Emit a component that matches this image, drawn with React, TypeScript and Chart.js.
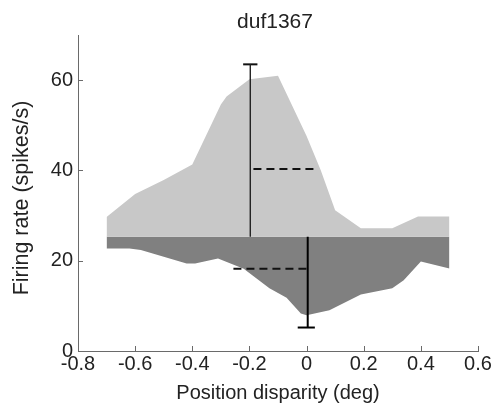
import React, { useEffect, useRef } from "react";
import { Chart, registerables } from "chart.js";

Chart.register(...registerables);

const titleText = "duf1367";
const xTitle = "Position disparity (deg)";
const yTitle = "Firing rate (spikes/s)";

const xTicks = [-0.8, -0.6, -0.4, -0.2, 0, 0.2, 0.4, 0.6];
const yTicks = [0, 20, 40, 60];

const baseline = 25.3;

// Upper (light) envelope
const upperX = [-0.7, -0.6, -0.5, -0.4, -0.3, -0.28, -0.2, -0.1, 0, 0.05, 0.1, 0.19, 0.3, 0.39, 0.5];
const upperY = [29.7, 34.8, 37.9, 41.3, 54.6, 56.4, 60.2, 61.0, 47.6, 40.0, 31.2, 27.2, 27.2, 29.8, 29.8];

// Lower (dark) envelope
const lowerX = [-0.7, -0.62, -0.58, -0.42, -0.39, -0.31, -0.22, -0.13, -0.07, -0.02, 0, 0.08, 0.19, 0.3, 0.34, 0.4, 0.5];
const lowerY = [22.7, 22.7, 22.4, 19.4, 19.4, 20.5, 18.2, 13.9, 11.8, 8.3, 7.9, 9.0, 12.5, 13.9, 15.7, 19.8, 18.3];

// Error bars and mean markers
const upperBarX = -0.197;
const upperBarTop = 63.5;
const upperMeanY = 40.3;
const upperMeanSpan = [-0.186, 0.036];
const lowerBarX = 0.004;
const lowerBarBottom = 5.2;
const lowerMeanY = 18.2;
const lowerMeanSpan = [-0.256, 0.001];
const capHalf = 0.025;

const FONT = "'Liberation Sans', Arial, Helvetica, sans-serif";

const decorations = {
  id: "decorations",
  afterDraw(chart: any) {
    const ctx = chart.ctx;
    const xs = chart.scales.x;
    const ys = chart.scales.y;
    const area = chart.chartArea;
    ctx.save();
    ctx.strokeStyle = "#6a6a6a";
    ctx.lineWidth = 1;
    ctx.beginPath();
    xTicks.forEach((v) => {
      const px = Math.round(xs.getPixelForValue(v)) + 0.5;
      ctx.moveTo(px, area.bottom);
      ctx.lineTo(px, area.bottom - 5);
    });
    yTicks.forEach((v) => {
      const py = Math.round(ys.getPixelForValue(v)) + 0.5;
      ctx.moveTo(area.left, py);
      ctx.lineTo(area.left + 5, py);
    });
    ctx.stroke();
    // title
    ctx.fillStyle = "#222";
    ctx.font = `21px ${FONT}`;
    ctx.textAlign = "center";
    ctx.textBaseline = "middle";
    ctx.fillText(titleText, (area.left + area.right) / 2 - 3, 22);
    // y axis title
    ctx.save();
    ctx.translate(22, (area.top + area.bottom) / 2 + 5);
    ctx.rotate(-Math.PI / 2);
    ctx.font = `21.5px ${FONT}`;
    ctx.fillText(yTitle, 0, 0);
    ctx.restore();
    ctx.restore();
  },
};

function pts(xs: number[], ys: number[]) {
  return xs.map((x, i) => ({ x, y: ys[i] }));
}

export default function App() {
  const ref = useRef<HTMLCanvasElement>(null);

  useEffect(() => {
    if (!ref.current) return;
    const line = (data: any[], color: string, width: number, dash: number[] = []) => ({
      data,
      borderColor: color,
      borderWidth: width,
      borderDash: dash,
      pointRadius: 0,
      fill: false,
      tension: 0,
      order: 0,
    });
    const chart = new Chart(ref.current, {
      type: "line",
      data: {
        datasets: [
          {
            data: pts(upperX, upperY),
            borderWidth: 0,
            borderColor: "rgba(0,0,0,0)",
            backgroundColor: "#c8c8c8",
            pointRadius: 0,
            fill: { value: baseline },
            tension: 0,
            order: 10,
          } as any,
          {
            data: pts(lowerX, lowerY),
            borderWidth: 0,
            borderColor: "rgba(0,0,0,0)",
            backgroundColor: "#808080",
            pointRadius: 0,
            fill: { value: baseline },
            tension: 0,
            order: 10,
          } as any,
          line([{ x: upperBarX, y: baseline }, { x: upperBarX, y: upperBarTop }], "#222", 1.4),
          line([{ x: upperBarX - capHalf, y: upperBarTop }, { x: upperBarX + capHalf, y: upperBarTop }], "#111", 2),
          line([{ x: upperMeanSpan[0], y: upperMeanY }, { x: upperMeanSpan[1], y: upperMeanY }], "#111", 2, [8, 5]),
          line([{ x: lowerBarX, y: baseline }, { x: lowerBarX, y: lowerBarBottom }], "#000", 2),
          line([{ x: lowerBarX - capHalf - 0.01, y: lowerBarBottom }, { x: lowerBarX + capHalf, y: lowerBarBottom }], "#000", 2),
          line([{ x: lowerMeanSpan[0], y: lowerMeanY }, { x: lowerMeanSpan[1], y: lowerMeanY }], "#111", 2, [8, 5]),
        ],
      },
      options: {
        animation: false,
        responsive: false,
        layout: { padding: { left: 0, right: 16, top: 35, bottom: 0 } },
        plugins: {
          legend: { display: false },
          tooltip: { enabled: false },
          title: { display: false },
        },
        scales: {
          x: {
            type: "linear",
            min: -0.8,
            max: 0.6,
            afterBuildTicks: (s: any) => {
              s.ticks = xTicks.map((v) => ({ value: v }));
            },
            afterFit: (s: any) => {
              s.height = 60;
            },
            grid: { display: false, drawTicks: false },
            border: { display: true, color: "#6a6a6a", width: 1 },
            ticks: {
              color: "#222",
              padding: 1,
              maxRotation: 0,
              autoSkip: false,
              font: { family: FONT, size: 20 },
              callback: (v: any) => String(Math.round(Number(v) * 10) / 10),
            },
            title: {
              display: true,
              text: xTitle,
              color: "#222",
              font: { family: FONT, size: 20 },
              padding: { top: 0, bottom: 6 },
            },
          },
          y: {
            type: "linear",
            min: 0,
            max: 70,
            afterBuildTicks: (s: any) => {
              s.ticks = yTicks.map((v) => ({ value: v }));
            },
            afterFit: (s: any) => {
              s.width = 78;
            },
            grid: { display: false, drawTicks: false },
            border: { display: true, color: "#6a6a6a", width: 1 },
            ticks: {
              color: "#222",
              padding: 5,
              autoSkip: false,
              font: { family: FONT, size: 20 },
              callback: (v: any) => String(v),
            },
            title: { display: false },
          },
        },
      },
      plugins: [decorations],
    });
    return () => chart.destroy();
  }, []);

  return (
    <div style={{ position: "fixed", left: 0, top: 0, width: 494, height: 411, background: "#fff" }}>
      <canvas ref={ref} width={494} height={411} style={{ display: "block" }} />
    </div>
  );
}
